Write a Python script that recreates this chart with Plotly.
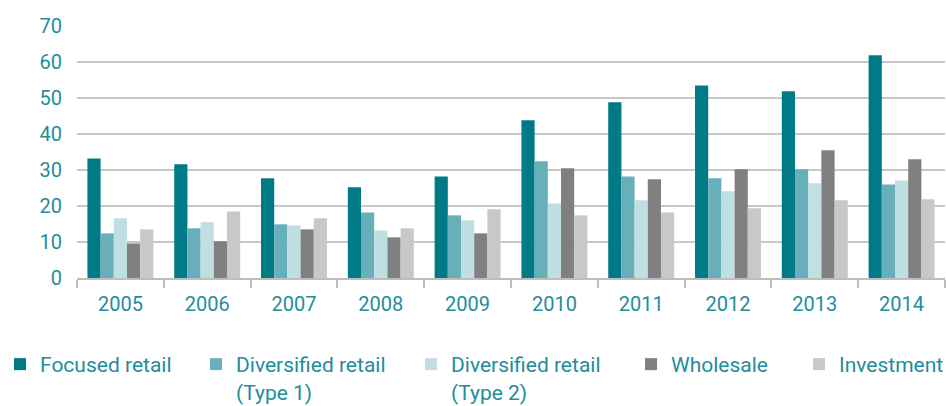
import plotly.graph_objects as go

years = ["2005", "2006", "2007", "2008", "2009", "2010", "2011", "2012", "2013", "2014"]
series_names = ["Focused retail", "Diversified retail<br>(Type 1)", "Diversified retail<br>(Type 2)", "Wholesale", "Investment"]
focused = [33.2, 31.6, 27.7, 25.2, 28.2, 43.8, 48.8, 53.5, 51.9, 61.9]
div1 = [12.4, 13.8, 14.9, 18.2, 17.4, 32.4, 28.2, 27.7, 30.2, 26.0]
div2 = [16.6, 15.5, 14.6, 13.2, 16.0, 20.7, 21.6, 24.1, 26.3, 27.1]
wholesale = [9.6, 10.2, 13.5, 11.3, 12.4, 30.5, 27.4, 30.2, 35.5, 33.0]
investment = [13.5, 18.5, 16.6, 13.8, 19.1, 17.4, 18.2, 19.4, 21.6, 21.9]
colors = ["#007a87", "#67b0b9", "#c0dfe2", "#808080", "#c8c8ca"]

text_color = "#238d99"
font_family = "Roboto, 'Noto Sans', sans-serif"

W, H = 946, 406
legend_ids = ["legend", "legend2", "legend3", "legend4", "legend5"]
legend_x_px = [-3, 196, 411, 631, 799]

fig = go.Figure()
for name, vals, c, lid in zip(series_names, [focused, div1, div2, wholesale, investment], colors, legend_ids):
    fig.add_trace(go.Bar(x=years, y=vals, name=name, legend=lid,
                         marker=dict(color=c, line=dict(width=0))))

legend_layout = {}
for lid, px in zip(legend_ids, legend_x_px):
    legend_layout[lid] = dict(
        orientation="h", xref="container", yref="container",
        x=px / W, xanchor="left", y=1 - 344 / H, yanchor="top",
        font=dict(family=font_family, size=21, color=text_color),
        itemclick=False, valign="top", bgcolor="rgba(0,0,0,0)")

fig.update_layout(
    width=W, height=H,
    margin=dict(l=77, r=1, t=26, b=128, autoexpand=False),
    paper_bgcolor="white", plot_bgcolor="white",
    barmode="group", bargap=0.24, bargroupgap=0,
    font=dict(family=font_family, size=20, color=text_color),
    showlegend=True,
    xaxis=dict(showgrid=False, showline=True, linecolor="#bdbdbd", linewidth=1.5,
               ticks="outside", tickson="boundaries", ticklen=8, tickcolor="#bdbdbd", tickwidth=1.5,
               ticklabelstandoff=7, automargin=False, tickfont=dict(size=20, color=text_color)),
    yaxis=dict(range=[0, 70], dtick=10, showgrid=True, gridcolor="#c8c8c8", gridwidth=1.5,
               zeroline=False, showline=False, ticks="", ticklabelstandoff=14,
               automargin=False, tickfont=dict(size=20, color=text_color)),
    **legend_layout,
)

fig.write_html("out.html", config={"displayModeBar": False},
               post_script="document.body.style.margin='0';document.body.style.padding='0';document.documentElement.style.margin='0';")
